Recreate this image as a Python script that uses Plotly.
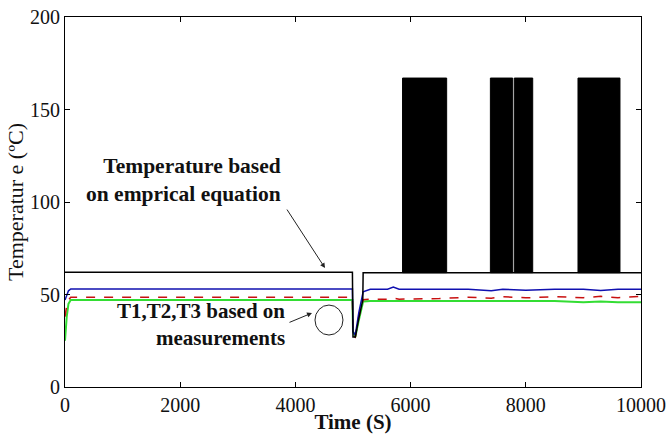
import plotly.graph_objects as go

# ---- data ----
time_s = [0, 30, 60, 100, 150, 500, 1000, 1500, 2000, 2500, 3000, 3500, 4000, 4500, 4990,
          5000, 5040, 5100, 5170, 5176, 5300, 5600, 5700, 5800, 6500, 7000, 7400, 7600,
          8000, 8500, 9000, 9300, 9600, 10000]
t_emp = [62, 62, 62, 62, 62, 62, 62, 62, 62, 62, 62, 62, 62, 62, 62,
         27, 27, 37, 47, 61.8, 61.8, 61.8, 61.8, 61.8, 61.8, 61.8, 61.8, 61.8,
         61.8, 61.8, 61.8, 61.8, 61.8, 61.8]
t1 = [47, 50, 52, 53, 53, 53, 53, 53, 53, 53, 53, 53, 53, 53, 53,
      30, 28, 40, 50, 51.5, 52.8, 52.8, 54, 52.8, 52.8, 52.8, 52, 52.8,
      52.3, 52.8, 52.8, 52.2, 52.8, 52.8]
t2 = [38, 44, 47, 48.5, 48.5, 48.5, 48.5, 48.5, 48.5, 48.5, 48.5, 48.5, 48.5, 48.5, 48.5,
      28, 27, 38, 47, 47.2, 47.5, 47.5, 48, 47.5, 47.8, 48.5, 48, 48.8,
      48.2, 48.8, 48.3, 49, 48.3, 49]
t3 = [25, 38, 45, 47, 47, 47, 47, 47, 47, 47, 47, 47, 47, 47, 47,
      30, 27, 36, 46, 46.2, 46.5, 46.5, 46.5, 46.5, 46.5, 46.5, 46.2, 46.5,
      46.2, 46.5, 45.8, 46.2, 45.8, 45.8]

band_start = [5860, 7385, 7800, 8906]
band_end = [6626, 7772, 8120, 9635]
band_peak = [167, 167, 167, 167]
band_base = 61.8

x_ticks = [0, 2000, 4000, 6000, 8000, 10000]
y_ticks = [0, 50, 100, 150, 200]

fig = go.Figure()

for s, e, p in zip(band_start, band_end, band_peak):
    fig.add_trace(go.Scatter(x=[s, s, e, e, s], y=[band_base, p, p, band_base, band_base],
                             mode="lines", fill="toself", fillcolor="black",
                             line=dict(color="black", width=1), showlegend=False,
                             hoverinfo="skip"))

fig.add_trace(go.Scatter(x=time_s, y=t3, mode="lines",
                         line=dict(color="#33dd33", width=2), showlegend=False))
fig.add_trace(go.Scatter(x=time_s, y=t2, mode="lines",
                         line=dict(color="#c81010", width=1.5, dash="dash"), showlegend=False))
fig.add_trace(go.Scatter(x=time_s, y=t1, mode="lines",
                         line=dict(color="#1010b0", width=1.5), showlegend=False))
fig.add_trace(go.Scatter(x=time_s, y=t_emp, mode="lines",
                         line=dict(color="black", width=1.5), showlegend=False))

serif = "Liberation Serif"

fig.add_annotation(x=3785, y=112, xref="x", yref="y", xanchor="right", yanchor="middle",
                   align="right", showarrow=False,
                   text="<b>Temperature based<br>on emprical equation</b>",
                   font=dict(family=serif, size=21.5, color="#111"))
fig.add_annotation(x=3854, y=34, xref="x", yref="y", xanchor="right", yanchor="middle",
                   align="right", showarrow=False,
                   text="<b>T1,T2,T3 based on<br>measurements</b>",
                   font=dict(family=serif, size=21, color="#111"))

fig.add_annotation(x=4514, y=64.3, xref="x", yref="y", ax=-39, ay=-60, text="",
                   showarrow=True, arrowhead=2, arrowsize=1, arrowwidth=1, arrowcolor="#222")
fig.add_annotation(x=4288, y=40, xref="x", yref="y", ax=-24, ay=10, text="",
                   showarrow=True, arrowhead=2, arrowsize=1, arrowwidth=1, arrowcolor="#222")

fig.add_shape(type="circle", xref="x", yref="y", x0=4340, x1=4826, y0=28.1, y1=44.3,
              line=dict(color="#222", width=1))

axis_common = dict(showline=True, linecolor="black", linewidth=1, mirror="ticks",
                   ticks="inside", ticklen=5, tickcolor="black", showgrid=False,
                   zeroline=False, automargin=False,
                   tickfont=dict(family=serif, size=20, color="#111"))

fig.update_xaxes(range=[0, 10000], tickvals=x_ticks, ticktext=[str(v) for v in x_ticks],
                 title=dict(text="<b>Time (S)</b>", font=dict(family=serif, size=21, color="#111"),
                            standoff=0),
                 **axis_common)
fig.update_yaxes(range=[0, 200], tickvals=y_ticks, ticktext=[str(v) for v in y_ticks],
                 title=dict(text="Temperatur e (ºC)", font=dict(family=serif, size=22, color="#111"),
                            standoff=0),
                 **axis_common)

fig.update_layout(width=668, height=434, margin=dict(l=65, r=27, t=17, b=47),
                  plot_bgcolor="white", paper_bgcolor="white")

fig.write_html("out.html")
